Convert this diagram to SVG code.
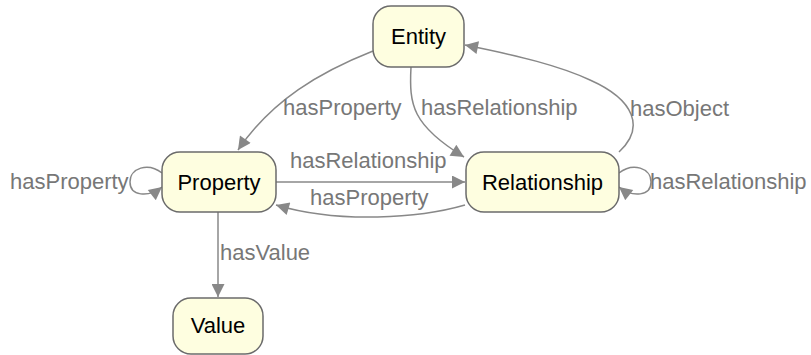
<svg xmlns="http://www.w3.org/2000/svg" width="811" height="355" viewBox="0 0 811 355">
<defs>
<style>
.node rect{fill:#fefee0;stroke:#6b6b6b;stroke-width:1.5}
.node text{font-family:"Liberation Sans",Arial,sans-serif;font-size:22px;fill:#000;text-anchor:middle}
.edge path{fill:none;stroke:#888;stroke-width:1.5}
.lbl{font-family:"Liberation Sans",Arial,sans-serif;font-size:22px;fill:#777}
</style>
<marker id="ah" viewBox="0 0 10 10" refX="10" refY="5" markerWidth="16" markerHeight="13" markerUnits="userSpaceOnUse" orient="auto">
<path d="M0,0 L10,5 L0,10 Z" fill="#888"/>
</marker>
</defs>
<rect width="811" height="355" fill="#fff"/>
<g id="connectors" class="edge">
<path d="M373,51 C320,72 272,100 238,150" marker-end="url(#ah)"/>
<text class="lbl" x="283" y="115">hasProperty</text>
<path d="M411,67 C409,105 412,125 464,157" marker-end="url(#ah)"/>
<text class="lbl" x="421" y="115">hasRelationship</text>
<path d="M619,152 C645,128 635,100 590,80 C560,66 520,56 465,45" marker-end="url(#ah)"/>
<text class="lbl" x="630" y="116">hasObject</text>
<path d="M276,182 L465,182" marker-end="url(#ah)"/>
<text class="lbl" x="290" y="168">hasRelationship</text>
<path d="M465,205 C420,218 340,224 276,205" marker-end="url(#ah)"/>
<text class="lbl" x="310" y="205">hasProperty</text>
<path d="M218,212 L218,297" marker-end="url(#ah)"/>
<text class="lbl" x="220" y="260">hasValue</text>
<path d="M162,173 C148,162 130,168 130,182 C130,196 148,198 162,187" marker-end="url(#ah)"/>
<text class="lbl" x="10" y="189">hasProperty</text>
<path d="M619,173 C633,162 651,168 651,182 C651,196 633,198 619,187" marker-end="url(#ah)"/>
<text class="lbl" x="650" y="189">hasRelationship</text>
</g>
<g id="node-entity" class="node">
<rect x="373" y="6" width="91" height="61" rx="18"/>
<text x="418.5" y="44">Entity</text>
</g>
<g id="node-property" class="node">
<rect x="162" y="152" width="114" height="60" rx="18"/>
<text x="219" y="190">Property</text>
</g>
<g id="node-relationship" class="node">
<rect x="466" y="152" width="153" height="60" rx="18"/>
<text x="542.5" y="190">Relationship</text>
</g>
<g id="node-value" class="node">
<rect x="173" y="298" width="90" height="56" rx="18"/>
<text x="218" y="333">Value</text>
</g>
</svg>
